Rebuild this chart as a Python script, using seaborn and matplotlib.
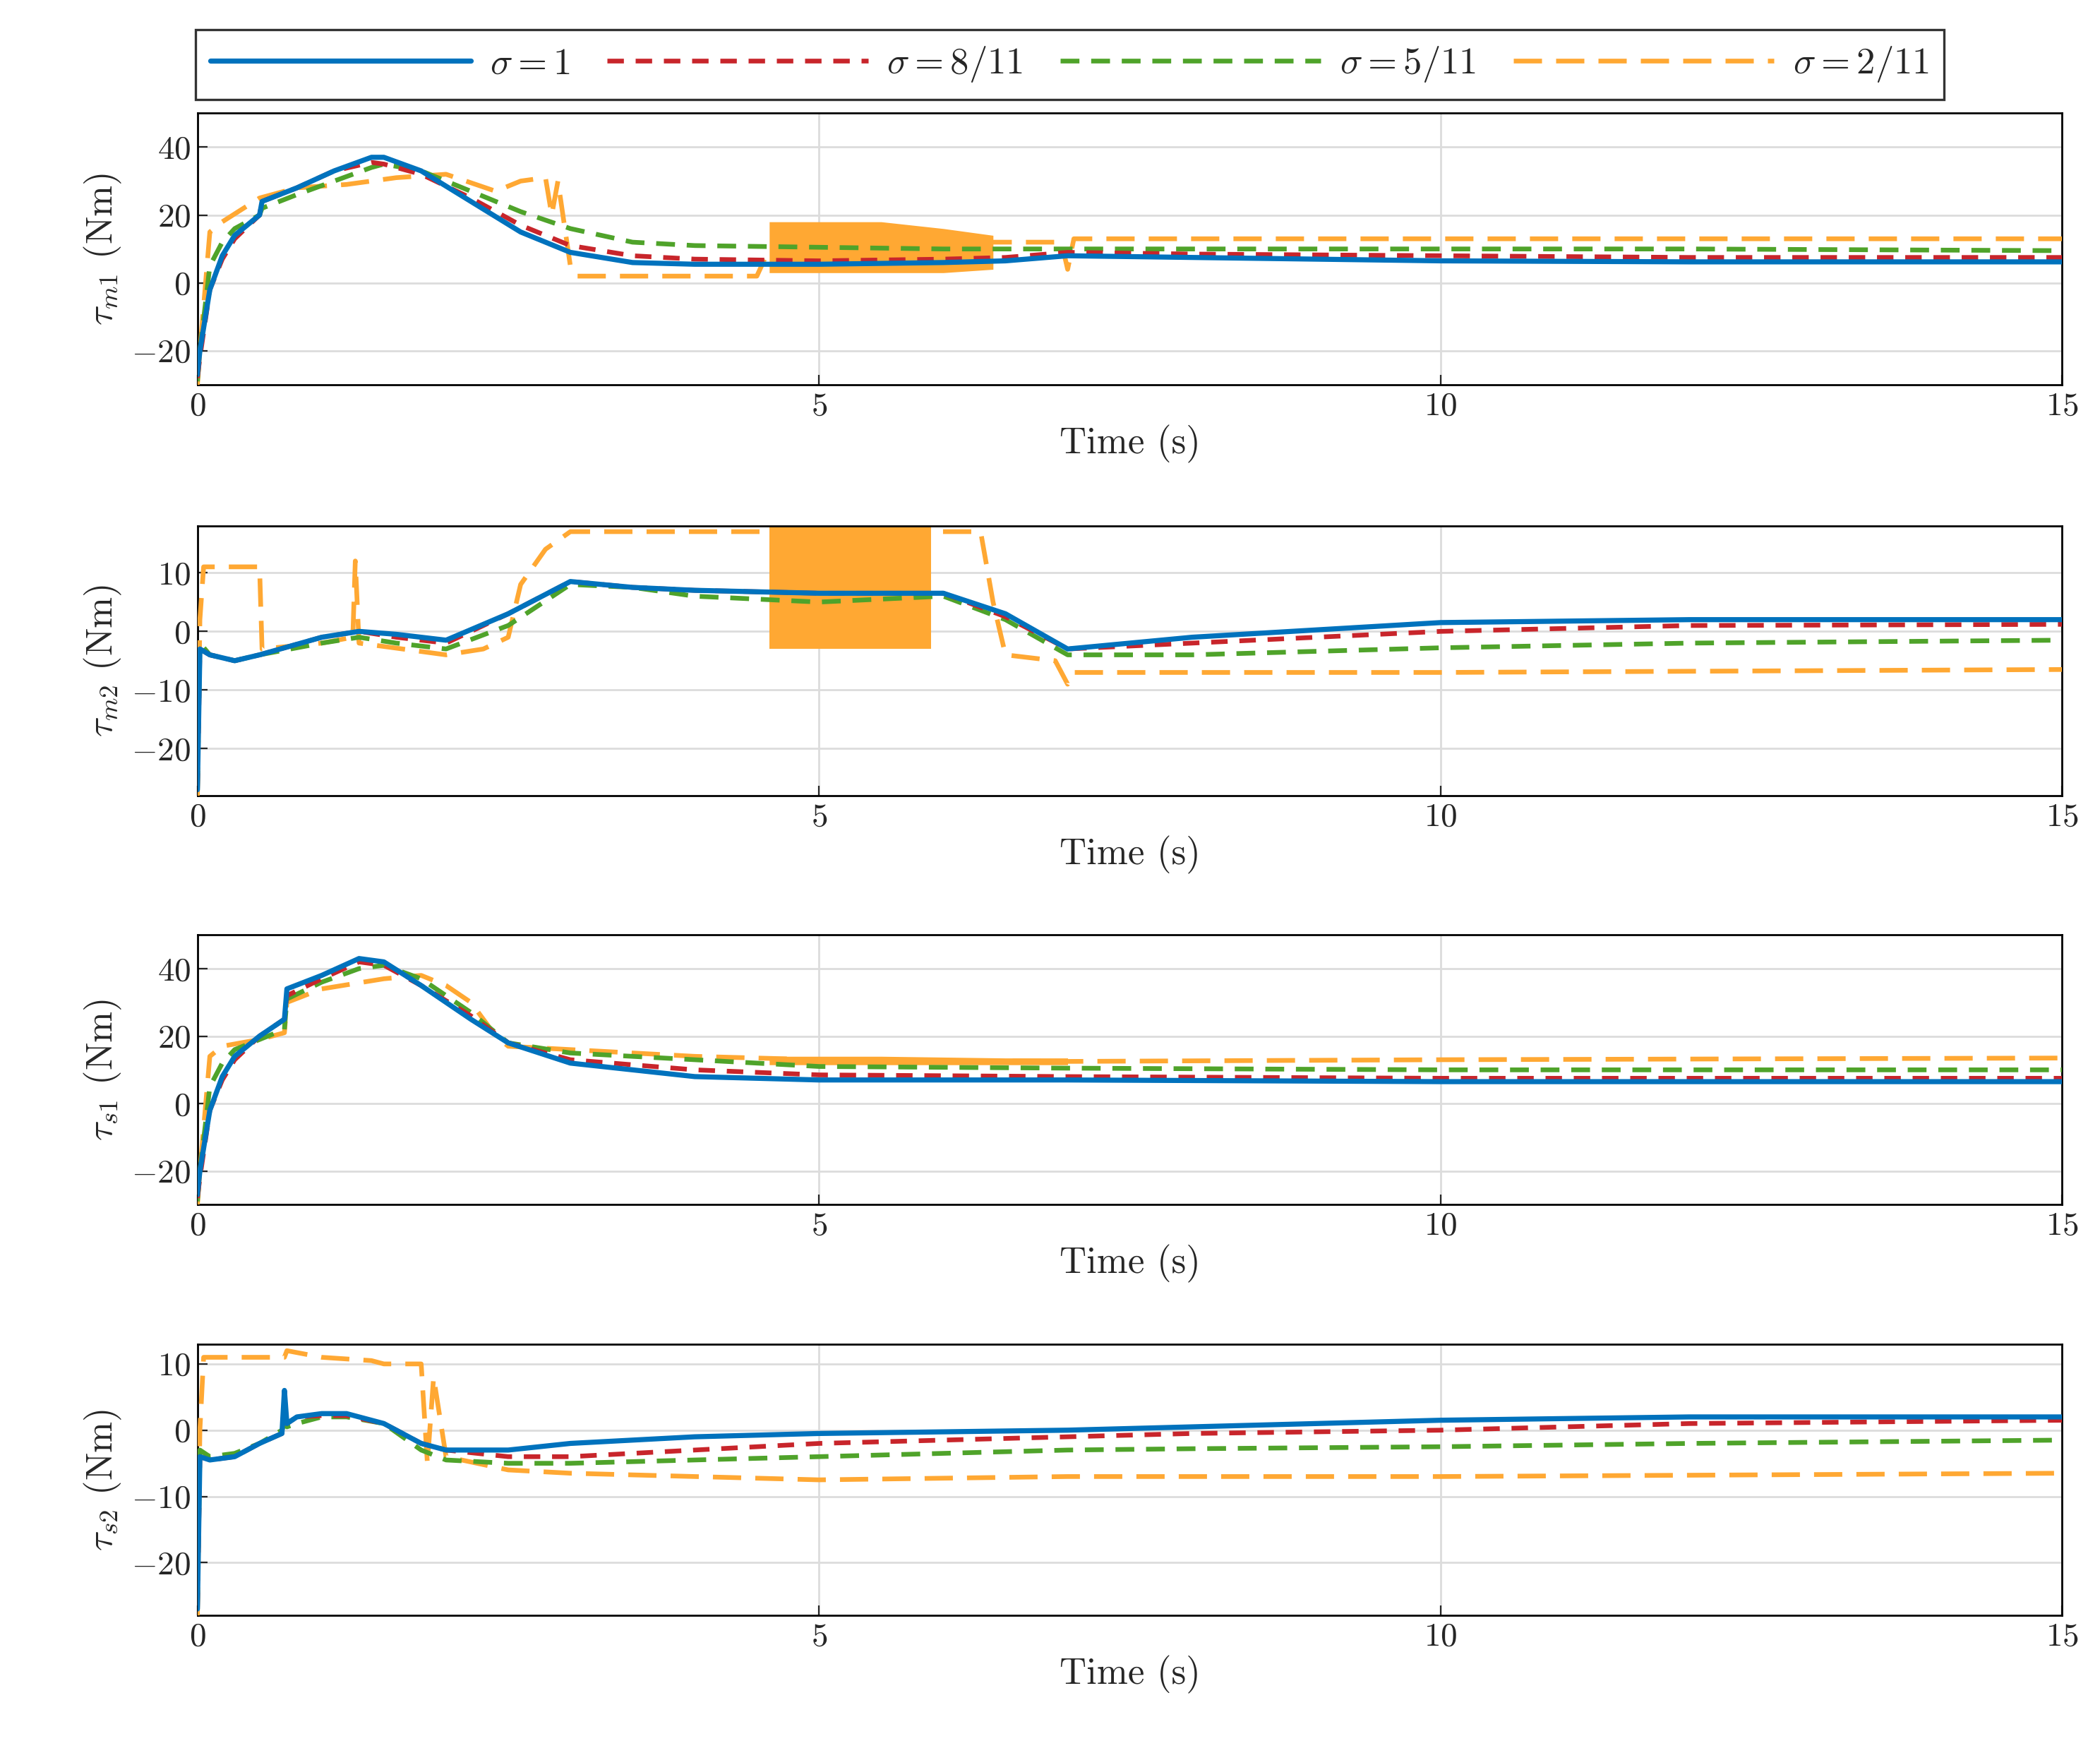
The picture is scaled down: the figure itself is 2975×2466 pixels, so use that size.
import numpy as np
import pandas as pd
import matplotlib
matplotlib.use('Agg')
import matplotlib.pyplot as plt
import seaborn as sns

# ---------------- data ----------------
# panel 1: tau_m1
T1_B = [0, 0.02, 0.1, 0.2, 0.3, 0.5, 0.52, 0.8, 1.1, 1.4, 1.5, 1.8, 2.2, 2.6, 3.0, 3.5, 4.0, 5.0, 6.0, 6.5, 7.0, 8, 10, 12, 15]
M1_BLUE = [-27, -20, -2, 8, 14, 20, 24, 28, 33, 37, 37, 33, 24, 15, 9, 6, 5.5, 5.5, 6, 6.5, 8, 7.5, 6.5, 6.2, 6.2]
M1_RED = [-28, -22, -2, 7, 13, 20, 24, 28, 33, 35.5, 35, 32, 25, 17, 11, 8, 7, 6.5, 7, 7.5, 9, 8.5, 8, 7.5, 7.5]
M1_GREEN = [-29, -20, 5, 12, 16, 20, 22, 26, 30, 34, 35, 33, 27, 21, 16, 12, 11, 10.5, 10, 10, 10, 10, 10, 10, 9.5]
T1_O = [0, 0.02, 0.1, 0.2, 0.5, 0.8, 1.2, 1.6, 2.0, 2.4, 2.6, 2.8, 2.85, 2.9, 3.0, 3.05, 3.5, 4.0, 4.5, 4.6, 6.4, 6.5, 6.95, 7.0, 7.05, 8, 10, 15]
M1_ORANGE = [-30, -20, 15, 18, 25, 28, 29, 31, 32, 27, 30, 31, 20, 30, 5, 2, 2, 2, 2, 10, 12, 12, 12, 4, 13, 13, 13, 13]
M1_BAND_T = [4.6, 5.0, 5.5, 6.0, 6.4]
M1_BAND_LO = [3, 3, 3, 3, 4]
M1_BAND_HI = [18, 18, 18, 16, 14]

# panel 2: tau_m2
T2_B = [0, 0.02, 0.1, 0.3, 0.5, 1.0, 1.3, 1.6, 2.0, 2.5, 3.0, 3.5, 4, 5, 6, 6.5, 7.0, 8, 10, 12, 15]
M2_BLUE = [-27, -3, -4, -5, -4, -1, 0, -0.5, -1.5, 3, 8.5, 7.5, 7, 6.5, 6.5, 3, -3, -1, 1.5, 2, 2]
M2_RED = [-27, -3, -4, -5, -4, -1, 0, -1, -2, 3, 8.5, 7.5, 7, 6.5, 6.5, 2.5, -3, -2, 0, 1, 1.2]
M2_GREEN = [-27, -2, -4, -5, -4, -2, -1, -2, -3, 1, 8, 7.5, 6, 5, 6, 2, -4, -4, -2.8, -2, -1.5]
T2_O = [0, 0.02, 0.05, 0.5, 0.52, 1.0, 1.25, 1.27, 1.3, 2.0, 2.3, 2.5, 2.6, 2.8, 3.0, 3.2, 4.0, 4.6, 6.0, 6.3, 6.4, 6.5, 6.9, 7.0, 7.05, 8, 10, 15]
M2_ORANGE = [-28, 2, 11, 11, -3, -2, -1, 12, -2, -4, -3, -1, 8, 14, 17, 17, 17, 17, 17, 17, 5, -4, -5, -9, -7, -7, -7, -6.5]
M2_BAND_T = [4.6, 5.0, 5.5, 5.9]
M2_BAND_LO = [-3, -3, -3, -3]
M2_BAND_HI = [18, 18, 18, 18]

# panel 3: tau_s1
T3_B = [0, 0.02, 0.1, 0.2, 0.3, 0.5, 0.7, 0.72, 1.0, 1.3, 1.5, 1.8, 2.2, 2.5, 3, 4, 5, 7, 10, 15]
S1_BLUE = [-27, -20, -2, 8, 14, 20, 25, 34, 38, 43, 42, 35, 25, 18, 12, 8, 7, 7, 6.5, 6.5]
S1_RED = [-28, -22, -2, 7, 13, 20, 25, 32, 37, 42, 41, 35, 26, 18, 13, 10, 8.5, 8, 7.5, 7.5]
S1_GREEN = [-29, -20, 5, 12, 16, 19, 22, 31, 36, 40, 41, 37, 27, 18, 15, 13, 11, 10.5, 10, 10]
T3_O = [0, 0.02, 0.1, 0.2, 0.5, 0.7, 0.72, 1.0, 1.5, 1.8, 2.0, 2.2, 2.4, 2.5, 3, 4, 5, 7, 10, 15]
S1_ORANGE = [-30, -20, 14, 17, 19, 21, 30, 34, 37, 38, 35, 30, 20, 17, 16, 14, 13, 12.5, 13, 13.5]
S1_BAND_T = [4.6, 5.5, 6.5, 7.0]
S1_BAND_LO = [11.5, 11.5, 11.5, 11.5]
S1_BAND_HI = [14, 14, 13.5, 13.5]

# panel 4: tau_s2
T4_B = [0, 0.02, 0.1, 0.3, 0.5, 0.68, 0.7, 0.72, 0.8, 1.0, 1.2, 1.5, 1.8, 2.0, 2.5, 3, 4, 5, 7, 8, 10, 12, 15]
S2_BLUE = [-27, -4, -4.5, -4, -2, -0.5, 6, 1, 2, 2.5, 2.5, 1, -2, -3, -3, -2, -1, -0.5, 0, 0.5, 1.5, 2, 2]
S2_RED = [-27, -4, -4.5, -4, -2, -0.5, 4, 1, 2, 2.2, 2.2, 1, -2, -3, -4, -4, -3, -2, -1, -0.5, 0, 1, 1.5]
S2_GREEN = [-27, -3, -4, -3.5, -2, 0, 1, 0.5, 1, 2, 2, 1, -3, -4.5, -5, -5, -4.5, -4, -3, -2.8, -2.5, -2, -1.5]
T4_O = [0, 0.02, 0.05, 0.1, 0.5, 0.7, 0.72, 1.0, 1.4, 1.5, 1.6, 1.8, 1.85, 1.9, 2.0, 2.5, 3, 4, 5, 7, 8, 10, 15]
S2_ORANGE = [-28, 0, 11, 11, 11, 11, 12, 11, 10.5, 10, 10, 10, -5, 8, -4, -6, -6.5, -7, -7.5, -7, -7, -7, -6.5]

YLABELS = [r'$\tau_{m1}$ (Nm)', r'$\tau_{m2}$ (Nm)', r'$\tau_{s1}$ (Nm)', r'$\tau_{s2}$ (Nm)']
YLIMS = [(-30, 50), (-28, 18), (-30, 50), (-28, 13)]
YTICKS = [[-20, 0, 20, 40], [-20, -10, 0, 10], [-20, 0, 20, 40], [-20, -10, 0, 10]]
LEGEND = [r'$\sigma = 1$', r'$\sigma = 8/11$', r'$\sigma = 5/11$', r'$\sigma = 2/11$']

C_BLUE, C_RED, C_GREEN, C_ORANGE = '#0072BD', '#C8252B', '#4FA32A', '#FFA833'

sns.set_style('ticks')
plt.rcParams['font.family'] = ['cmr10', 'DejaVu Serif']
plt.rcParams['mathtext.fontset'] = 'cm'
plt.rcParams['axes.formatter.use_mathtext'] = True
plt.rcParams['axes.unicode_minus'] = True

fig = plt.figure(figsize=(14.875, 12.33), dpi=200)
boxes = [(0.779, 0.935), (0.543, 0.698), (0.308, 0.463), (0.072, 0.228)]

panels = [
    (T1_B, M1_BLUE, M1_RED, M1_GREEN, T1_O, M1_ORANGE, (M1_BAND_T, M1_BAND_LO, M1_BAND_HI)),
    (T2_B, M2_BLUE, M2_RED, M2_GREEN, T2_O, M2_ORANGE, (M2_BAND_T, M2_BAND_LO, M2_BAND_HI)),
    (T3_B, S1_BLUE, S1_RED, S1_GREEN, T3_O, S1_ORANGE, (S1_BAND_T, S1_BAND_LO, S1_BAND_HI)),
    (T4_B, S2_BLUE, S2_RED, S2_GREEN, T4_O, S2_ORANGE, None),
]

handles = []
for i, (tb, blue, red, green, to, orange, band) in enumerate(panels):
    b0, b1 = boxes[i]
    ax = fig.add_axes([0.094, b0, 0.888, b1 - b0])
    ax.grid(True, color='#dcdcdc', linewidth=1.0)
    ax.set_axisbelow(True)
    if band is not None:
        ax.fill_between(band[0], band[1], band[2], color=C_ORANGE, linewidth=0, zorder=2)
    sns.lineplot(x=to, y=orange, ax=ax, color=C_ORANGE, linewidth=2.4, zorder=3, sort=False)
    ax.lines[-1].set_dashes([6, 3])
    sns.lineplot(x=tb, y=green, ax=ax, color=C_GREEN, linewidth=2.4, zorder=4, sort=False)
    ax.lines[-1].set_dashes([4, 2.5])
    sns.lineplot(x=tb, y=red, ax=ax, color=C_RED, linewidth=2.4, zorder=5, sort=False)
    ax.lines[-1].set_dashes([3.5, 2.5])
    sns.lineplot(x=tb, y=blue, ax=ax, color=C_BLUE, linewidth=2.6, zorder=6, sort=False)
    if i == 0:
        ln = ax.lines
        handles = [ln[3], ln[2], ln[1], ln[0]]
    ax.set_xlim(0, 15)
    ax.set_ylim(*YLIMS[i])
    ax.set_xticks([0, 5, 10, 15])
    ax.set_yticks(YTICKS[i])
    ax.set_xlabel('Time (s)', fontsize=19, labelpad=2)
    ax.set_ylabel(YLABELS[i], fontsize=19)
    ax.tick_params(labelsize=17, direction='in', length=5)
    for s in ax.spines.values():
        s.set_linewidth(1.0)
        s.set_color('black')

leg = fig.legend(handles, LEGEND, loc='lower left', bbox_to_anchor=(0.093, 0.943),
                 ncol=4, fontsize=19, frameon=True, fancybox=False,
                 handlelength=7.0, handletextpad=0.5, columnspacing=1.0, borderaxespad=0)
leg.get_frame().set_edgecolor('black')
leg.get_frame().set_linewidth(1.2)

fig.savefig('out.png', dpi=200)
